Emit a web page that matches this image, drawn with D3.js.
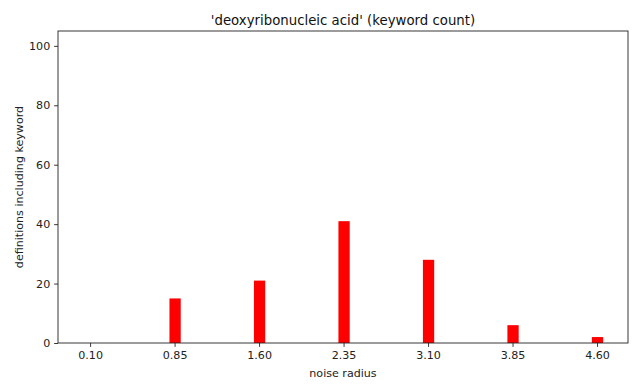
<!DOCTYPE html>
<html>
<head>
  <style>
    body{ margin:0; background:#fff; font-family:"DejaVu Sans", sans-serif; }
    .tick text{ font-size:11.1px; fill:#222; font-family:"DejaVu Sans", sans-serif; }
    .lbl{ font-size:11.1px; fill:#222; }
    .title{ font-size:13.3px; fill:#111; }
  </style>
  <script src="https://d3js.org/d3.v7.min.js"></script>
</head>
<body>
<div class="chart"></div>
<script>
const radii = [0.10, 0.85, 1.60, 2.35, 3.10, 3.85, 4.60];
const counts = [0, 15, 21, 41, 28, 6, 2];
const tickLabels = ['0.10', '0.85', '1.60', '2.35', '3.10', '3.85', '4.60'];
const yTicks = [0, 20, 40, 60, 80, 100];

const width = 640, height = 388;
const m = {top:31, right:12, bottom:45, left:58};

const svg = d3.select('.chart').append('svg')
  .attr('width', width).attr('height', height);

const x = d3.scaleLinear().domain([-0.185, 4.875]).range([m.left, width - m.right]);
const y = d3.scaleLinear().domain([0, 105]).range([height - m.bottom, m.top]);
const barW = x(0.1) - x(0);

svg.append('g')
  .selectAll('rect')
  .data(radii)
  .join('rect')
  .attr('x', (d) => x(d) - barW / 2 + 0.5)
  .attr('width', barW)
  .attr('y', (d, i) => y(counts[i]))
  .attr('height', (d, i) => y(0) - y(counts[i]))
  .attr('fill', '#ff0000');

const xAxis = svg.append('g')
  .attr('transform', `translate(0,${height - m.bottom})`)
  .call(d3.axisBottom(x).tickValues(radii).tickFormat((d, i) => tickLabels[i]).tickSize(3.9).tickPadding(3.9));
const yAxis = svg.append('g')
  .attr('transform', `translate(${m.left},0)`)
  .call(d3.axisLeft(y).tickValues(yTicks).tickSize(3.9).tickPadding(3.9));

[xAxis, yAxis].forEach(g => {
  g.select('.domain').remove();
  g.selectAll('.tick line').attr('stroke', '#222').attr('stroke-width', 0.9);
});

// frame
svg.append('rect')
  .attr('x', m.left).attr('y', m.top)
  .attr('width', width - m.right - m.left)
  .attr('height', height - m.bottom - m.top)
  .attr('fill', 'none').attr('stroke', '#222').attr('stroke-width', 0.9);

svg.append('text').attr('class', 'title')
  .attr('x', (m.left + width - m.right) / 2).attr('y', 24.5)
  .attr('text-anchor', 'middle')
  .text("'deoxyribonucleic acid' (keyword count)");

svg.append('text').attr('class', 'lbl')
  .attr('x', (m.left + width - m.right) / 2).attr('y', 377)
  .attr('text-anchor', 'middle')
  .text('noise radius');

svg.append('text').attr('class', 'lbl')
  .attr('transform', `translate(22.5,${(m.top + height - m.bottom) / 2}) rotate(-90)`)
  .attr('text-anchor', 'middle')
  .text('definitions including keyword');
</script>
</body>
</html>
